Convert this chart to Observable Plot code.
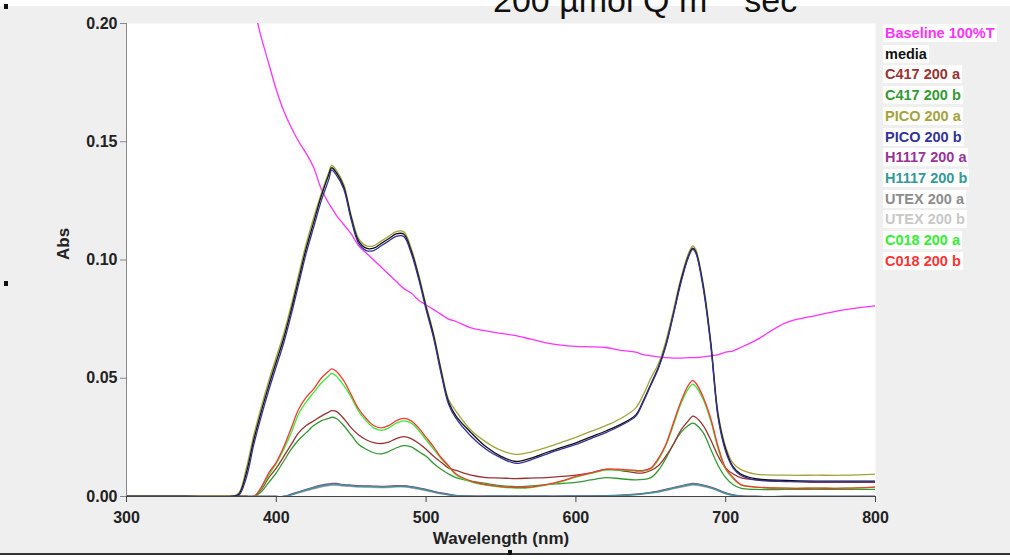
<!DOCTYPE html>
<html>
<head>
<meta charset="utf-8">
<script src="https://cdn.jsdelivr.net/npm/d3@7"></script>
<script src="https://cdn.jsdelivr.net/npm/@observablehq/plot@0.6"></script>
<style>
  body { margin: 0; background: #fff; }
  #page { position: relative; width: 1010px; height: 560px; overflow: hidden; background: #fff;
          font-family: "Liberation Sans", Arial, sans-serif; }
  #panel { position: absolute; left: 0; top: 6px; width: 1010px; height: 547px; background: #efefef; }
  #bottomline { position: absolute; left: 0; top: 553px; width: 1010px; height: 2px; background: #333; }
  #chart { position: absolute; left: 0; top: 0; }
  #title { position: absolute; left: 493px; top: -17px; font-size: 34px; line-height: 34px;
           white-space: nowrap; color: #111; }
  #title sup { font-size: 60%; vertical-align: 0.75em; line-height: 0; }
  .key { position: absolute; left: 883px; height: 18px; line-height: 18px; padding: 0 2px;
         background: #fff; font-weight: bold; font-size: 14.5px; white-space: nowrap; }
  .handle { position: absolute; width: 4px; height: 5px; background: #111; }
</style>
</head>
<body>
<div id="page">
  <div id="panel"></div>
  <div id="bottomline"></div>
  <div id="chart"></div>
  <div id="title">200 µmol Q m <sup>-2</sup> sec <sup>-1</sup></div>
  <div id="legend"></div>
  <div class="handle" style="left:4px;top:4px"></div>
  <div class="handle" style="left:4px;top:281px"></div>
  <div class="handle" style="left:508px;top:550px"></div>
</div>
<script>
// Shared wavelength grid (nm)
const nm = [
  300, 340, 370, 375, 380,
  385, 390, 395, 400, 405,
  410, 415, 420, 425, 430,
  435, 437, 440, 445, 450,
  455, 460, 465, 470, 475,
  480, 485, 490, 495, 500,
  505, 510, 515, 520, 530,
  540, 550, 560, 570, 580,
  590, 600, 610, 620, 630,
  640, 645, 650, 655, 660,
  665, 670, 675, 678, 680,
  685, 690, 695, 700, 705,
  710, 720, 740, 760, 780,
  800
];

const baseline100T = [
  null, null, null, null, null,
  0.207, 0.194, 0.183, 0.172, 0.163,
  0.156, 0.150, 0.145, 0.139, 0.130,
  0.124, 0.122, 0.119, 0.115, 0.111,
  0.106, 0.103, 0.100, 0.097, 0.094,
  0.091, 0.088, 0.086, 0.083, 0.081,
  0.079, 0.077, 0.075, 0.074, 0.0713,
  0.070, 0.069, 0.068, 0.0665, 0.065,
  0.064, 0.0635, 0.0633, 0.063, 0.0618,
  0.061, 0.060, 0.0595, 0.059, 0.0587,
  0.0585, 0.0585, 0.0587, 0.0587, 0.0587,
  0.059, 0.0595, 0.060, 0.061, 0.0616,
  0.063, 0.066, 0.0734, 0.0765, 0.079,
  0.0806
];

const media = [
  0, 0, 0, 0.001, 0.010,
  0.024, 0.036, 0.047, 0.057, 0.067,
  0.079, 0.092, 0.105, 0.116, 0.127,
  0.136, 0.139, 0.137, 0.131, 0.118,
  0.108, 0.105, 0.105, 0.107, 0.109,
  0.111, 0.111, 0.104, 0.093, 0.080,
  0.068, 0.053, 0.040, 0.034, 0.027,
  0.021, 0.017, 0.0148, 0.0162, 0.0185,
  0.0207, 0.0227, 0.0252, 0.0277, 0.0305,
  0.0345, 0.0405, 0.0475, 0.0545, 0.064,
  0.077, 0.091, 0.1015, 0.105, 0.1035,
  0.089, 0.065, 0.034, 0.020, 0.0125,
  0.0095, 0.0075, 0.0068, 0.0065, 0.0065,
  0.0065
];

const c417a = [
  0, 0, 0, 0, 0,
  0, 0.003, 0.008, 0.012, 0.017,
  0.022, 0.027, 0.030, 0.032, 0.034,
  0.0357, 0.0363, 0.036, 0.033, 0.029,
  0.026, 0.024, 0.0228, 0.0224, 0.023,
  0.0245, 0.0253, 0.0245, 0.0225, 0.020,
  0.017, 0.0145, 0.012, 0.011, 0.009,
  0.008, 0.0078, 0.0076, 0.0078, 0.008,
  0.0085, 0.009, 0.010, 0.0115, 0.011,
  0.010, 0.010, 0.011, 0.013, 0.017,
  0.022, 0.028, 0.032, 0.034, 0.0335,
  0.030, 0.024, 0.017, 0.012, 0.0095,
  0.008, 0.007, 0.0065, 0.006, 0.006,
  0.006
];

const c417b = [
  0, 0, 0, 0, 0,
  0, 0.002, 0.006, 0.010, 0.015,
  0.020, 0.024, 0.027, 0.030, 0.032,
  0.033, 0.0335, 0.033, 0.030, 0.026,
  0.022, 0.020, 0.0185, 0.018, 0.019,
  0.0205, 0.0215, 0.021, 0.019, 0.017,
  0.014, 0.0115, 0.0095, 0.008, 0.0065,
  0.0055, 0.0046, 0.0042, 0.0045, 0.005,
  0.0055, 0.006, 0.007, 0.008, 0.0075,
  0.007, 0.0072, 0.008, 0.011, 0.016,
  0.022, 0.027, 0.030, 0.031, 0.0305,
  0.027, 0.020, 0.013, 0.008, 0.005,
  0.0035, 0.003, 0.003, 0.003, 0.003,
  0.003
];

const picoA = [
  0, 0, 0, 0.0015, 0.012,
  0.026, 0.038, 0.049, 0.059, 0.069,
  0.081, 0.094, 0.107, 0.118, 0.128,
  0.137, 0.140, 0.138, 0.132, 0.119,
  0.109, 0.106, 0.106, 0.108, 0.110,
  0.112, 0.112, 0.105, 0.094, 0.081,
  0.069, 0.054, 0.041, 0.036, 0.028,
  0.023, 0.0195, 0.0178, 0.0188, 0.0207,
  0.0228, 0.025, 0.0275, 0.030, 0.033,
  0.0375, 0.043, 0.050, 0.056, 0.0655,
  0.0785, 0.092, 0.1025, 0.106, 0.1045,
  0.090, 0.066, 0.035, 0.021, 0.014,
  0.0115, 0.0095, 0.009, 0.009, 0.009,
  0.0095
];

const picoB = [
  0, 0, 0, 0.0005, 0.008,
  0.022, 0.034, 0.045, 0.055, 0.065,
  0.077, 0.090, 0.103, 0.114, 0.125,
  0.134, 0.138, 0.136, 0.130, 0.117,
  0.107, 0.104, 0.104, 0.106, 0.108,
  0.110, 0.110, 0.103, 0.092, 0.079,
  0.067, 0.052, 0.039, 0.033, 0.0255,
  0.020, 0.0163, 0.014, 0.0155, 0.0178,
  0.020, 0.022, 0.0245, 0.027, 0.030,
  0.034, 0.040, 0.047, 0.054, 0.0635,
  0.0765, 0.090, 0.101, 0.1045, 0.103,
  0.088, 0.064, 0.033, 0.019, 0.012,
  0.009, 0.007, 0.0063, 0.0063, 0.0063,
  0.0063
];

const h1117a = [
  0, 0, 0, 0, 0,
  0, 0, 0, 0, 0,
  0.001, 0.002, 0.003, 0.004, 0.0048,
  0.0053, 0.0055, 0.0055, 0.005, 0.0048,
  0.0046, 0.0045, 0.0044, 0.0043, 0.0044,
  0.0046, 0.0046, 0.0042, 0.0036, 0.003,
  0.0022, 0.0015, 0.001, 0.0005, 0.0002,
  0.0002, 0.0002, 0.0002, 0.0002, 0.0002,
  0.0002, 0.0003, 0.0003, 0.0004, 0.0006,
  0.001, 0.0013, 0.0017, 0.0023, 0.003,
  0.0038, 0.0045, 0.0052, 0.0055, 0.0054,
  0.0048, 0.004, 0.0028, 0.0015, 0.0007,
  0.0003, 0, 0, 0, 0,
  0
];

const h1117b = [
  0, 0, 0, 0, 0,
  0, 0, 0, 0, 0,
  0.0008, 0.0018, 0.0028, 0.0037, 0.0045,
  0.005, 0.0052, 0.0052, 0.0048, 0.0046,
  0.0044, 0.0043, 0.0042, 0.0041, 0.0042,
  0.0044, 0.0044, 0.004, 0.0034, 0.0028,
  0.002, 0.0013, 0.0008, 0.0004, 0.0001,
  0.0001, 0.0001, 0.0001, 0.0001, 0.0001,
  0.0001, 0.0002, 0.0002, 0.0003, 0.0005,
  0.0009, 0.0012, 0.0016, 0.0021, 0.0028,
  0.0036, 0.0043, 0.005, 0.0053, 0.0052,
  0.0046, 0.0038, 0.0026, 0.0013, 0.0006,
  0.0002, 0, 0, 0, 0,
  0
];

const utexA = [
  0, 0, 0, 0, 0,
  0, 0, 0, 0, 0,
  0.0007, 0.0016, 0.0026, 0.0034, 0.0042,
  0.0047, 0.0049, 0.0049, 0.0046, 0.0044,
  0.0042, 0.0041, 0.004, 0.0039, 0.004,
  0.0042, 0.0042, 0.0038, 0.0032, 0.0026,
  0.0019, 0.0012, 0.0007, 0.0003, 0.0001,
  0.0001, 0.0001, 0.0001, 0.0001, 0.0001,
  0.0001, 0.0002, 0.0002, 0.0003, 0.0004,
  0.0008, 0.0011, 0.0015, 0.002, 0.0027,
  0.0034, 0.0041, 0.0047, 0.005, 0.0049,
  0.0044, 0.0036, 0.0025, 0.0012, 0.0005,
  0.0002, 0, 0, 0, 0,
  0
];

const utexB = [
  0, 0, 0, 0, 0,
  0, 0, 0, 0, 0,
  0.0006, 0.0015, 0.0024, 0.0032, 0.004,
  0.0045, 0.0047, 0.0047, 0.0044, 0.0042,
  0.004, 0.0039, 0.0038, 0.0037, 0.0038,
  0.004, 0.004, 0.0036, 0.003, 0.0024,
  0.0017, 0.0011, 0.0006, 0.0002, 0.0001,
  0, 0, 0, 0, 0,
  0, 0.0001, 0.0001, 0.0002, 0.0003,
  0.0007, 0.001, 0.0014, 0.0019, 0.0025,
  0.0032, 0.0039, 0.0045, 0.0048, 0.0047,
  0.0042, 0.0034, 0.0023, 0.0011, 0.0004,
  0.0001, 0, 0, 0, 0,
  0
];

const c018a = [
  0, 0, 0, 0, 0,
  0, 0.0035, 0.009, 0.014, 0.020,
  0.027, 0.035, 0.040, 0.044, 0.048,
  0.051, 0.052, 0.051, 0.047, 0.042,
  0.036, 0.032, 0.029, 0.028, 0.029,
  0.031, 0.032, 0.031, 0.028, 0.024,
  0.020, 0.016, 0.0125, 0.0092, 0.0062,
  0.0048, 0.004, 0.0036, 0.0038, 0.0048,
  0.0063, 0.0082, 0.0098, 0.0112, 0.0112,
  0.0107, 0.0107, 0.0117, 0.0155, 0.0215,
  0.030, 0.039, 0.0455, 0.0475, 0.0465,
  0.041, 0.032, 0.020, 0.0115, 0.0075,
  0.005, 0.004, 0.0035, 0.0035, 0.0035,
  0.004
];

const c018b = [
  0, 0, 0, 0, 0,
  0, 0.004, 0.010, 0.0145, 0.021,
  0.029, 0.037, 0.042, 0.0455, 0.050,
  0.053, 0.054, 0.053, 0.049, 0.043,
  0.037, 0.033, 0.030, 0.029, 0.030,
  0.032, 0.033, 0.032, 0.029, 0.025,
  0.021, 0.0165, 0.013, 0.0095, 0.0065,
  0.005, 0.0042, 0.0038, 0.004, 0.005,
  0.0065, 0.0085, 0.010, 0.0115, 0.0115,
  0.011, 0.011, 0.012, 0.016, 0.022,
  0.031, 0.040, 0.047, 0.049, 0.048,
  0.042, 0.033, 0.021, 0.012, 0.008,
  0.005, 0.004, 0.0035, 0.0035, 0.0035,
  0.004
];

// legend order
const seriesNames = [
  "Baseline 100%T", "media", "C417 200 a", "C417 200 b", "PICO 200 a", "PICO 200 b",
  "H1117 200 a", "H1117 200 b", "UTEX 200 a", "UTEX 200 b", "C018 200 a", "C018 200 b"
];
const seriesValues = [
  baseline100T, media, c417a, c417b, picoA, picoB,
  h1117a, h1117b, utexA, utexB, c018a, c018b
];
const seriesColors = [
  "#ff33ff", "#111111", "#993333", "#339933", "#a3a33a", "#333399",
  "#993399", "#339999", "#8c8c8c", "#c8c8c8", "#33ee33", "#ff3333"
];
// drawing order (first drawn lies underneath)
const drawOrder = [
  "UTEX 200 b", "UTEX 200 a", "H1117 200 a", "H1117 200 b",
  "Baseline 100%T", "C417 200 b", "C417 200 a", "C018 200 a", "C018 200 b",
  "PICO 200 a", "media", "PICO 200 b"
];

const yTicks = [0, 0.05, 0.10, 0.15, 0.20];
const xTicks = [300, 400, 500, 600, 700, 800];

// long-format table for the line mark
const rows = [];
drawOrder.forEach(name => {
  const k = seriesNames.indexOf(name);
  nm.forEach((w, i) => rows.push({nm: w, abs: seriesValues[k][i], name}));
});

const chart = Plot.plot({
  width: 900,
  height: 552,
  marginLeft: 126,
  marginRight: 25,
  marginTop: 23,
  marginBottom: 56,
  x: {domain: [300, 800]},
  y: {domain: [0, 0.2]},
  color: {domain: seriesNames, range: seriesColors},
  style: {
    background: "transparent",
    fontFamily: "'Liberation Sans', Arial, sans-serif",
    fontWeight: "bold",
    fontSize: "16px",
    color: "#222"
  },
  marks: [
    Plot.frame({fill: "white", stroke: "none"}),
    Plot.line(rows, {x: "nm", y: "abs", z: "name", stroke: "name", strokeWidth: 1.3,
                     curve: "catmull-rom", clip: true}),
    Plot.ruleX([300], {stroke: "#8a8a8a"}),
    Plot.ruleY([0], {stroke: "#444"}),
    Plot.axisY({ticks: yTicks, tickFormat: d3.format(".2f"), tickSize: 6, tickPadding: 3,
                label: null, stroke: "#888", fontWeight: "bold"}),
    Plot.axisX({ticks: xTicks, tickSize: 6, tickPadding: 9, label: null, stroke: "#444",
                fontWeight: "bold"}),
    Plot.text(["Wavelength (nm)"], {frameAnchor: "bottom", dy: 42, text: d => d,
                fontWeight: "bold", fontSize: 17, lineAnchor: "middle"}),
    Plot.text(["Abs"], {frameAnchor: "left", dx: -63, text: d => d, rotate: -90,
                fontWeight: "bold", fontSize: 17})
  ]
});
document.getElementById("chart").append(chart);

// legend column on the right
const legend = document.getElementById("legend");
seriesNames.forEach((name, i) => {
  const el = document.createElement("div");
  el.className = "key";
  el.style.top = (33 + i * 20.7 - 9) + "px";
  el.style.color = seriesColors[i];
  el.textContent = name;
  legend.append(el);
});
</script>
</body>
</html>
